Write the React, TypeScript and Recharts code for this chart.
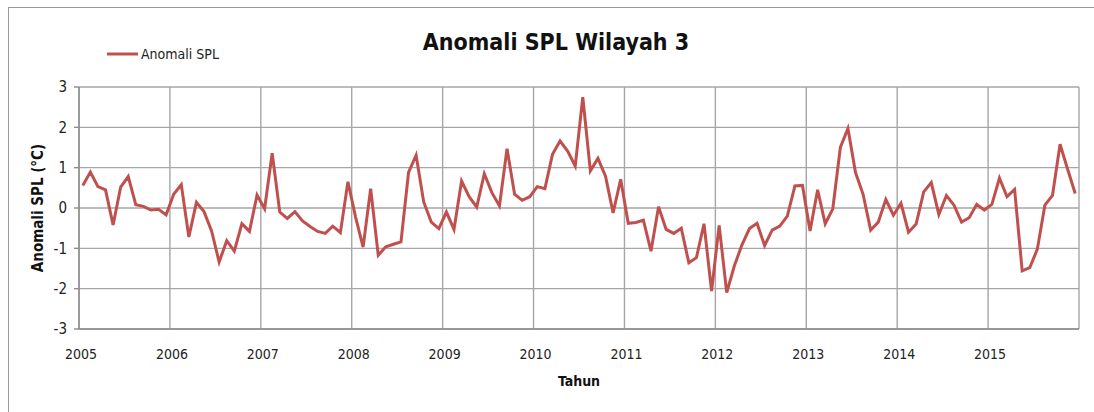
import { LineChart, Line, XAxis, YAxis, CartesianGrid, Label } from "recharts";

// tahun awal tiap tick, satu tick per 12 bulan
const years = [2005, 2006, 2007, 2008, 2009, 2010, 2011, 2012, 2013, 2014, 2015];

// anomali SPL bulanan (°C), Jan 2005 - Des 2015
const anom2005 = [0.56, 0.89, 0.53, 0.45, -0.42, 0.52, 0.78, 0.08, 0.04, -0.05, -0.03, -0.17];
const anom2006 = [0.34, 0.58, -0.72, 0.14, -0.09, -0.57, -1.34, -0.81, -1.07, -0.39, -0.58, 0.32];
const anom2007 = [-0.02, 1.36, -0.1, -0.26, -0.09, -0.32, -0.46, -0.58, -0.63, -0.45, -0.61, 0.65];
const anom2008 = [-0.22, -0.97, 0.48, -1.17, -0.96, -0.9, -0.84, 0.88, 1.31, 0.15, -0.35, -0.51];
const anom2009 = [-0.1, -0.53, 0.67, 0.28, 0.02, 0.85, 0.38, 0.05, 1.47, 0.34, 0.19, 0.28];
const anom2010 = [0.53, 0.48, 1.33, 1.66, 1.41, 1.04, 2.75, 0.92, 1.23, 0.79, -0.12, 0.71];
const anom2011 = [-0.38, -0.36, -0.3, -1.07, 0.03, -0.53, -0.63, -0.5, -1.36, -1.23, -0.39, -2.06];
const anom2012 = [-0.43, -2.1, -1.44, -0.92, -0.51, -0.38, -0.93, -0.55, -0.45, -0.2, 0.55, 0.56];
const anom2013 = [-0.57, 0.45, -0.39, -0.02, 1.5, 1.97, 0.88, 0.34, -0.55, -0.35, 0.21, -0.18];
const anom2014 = [0.12, -0.6, -0.4, 0.4, 0.63, -0.16, 0.31, 0.07, -0.35, -0.24, 0.09, -0.05];
const anom2015 = [0.09, 0.74, 0.28, 0.46, -1.56, -1.48, -1.02, 0.07, 0.31, 1.58, 0.96, 0.36];

const yTicks = [-3, -2, -1, 0, 1, 2, 3];

const series = [
  ...anom2005, ...anom2006, ...anom2007, ...anom2008, ...anom2009, ...anom2010,
  ...anom2011, ...anom2012, ...anom2013, ...anom2014, ...anom2015,
];

// titik di tengah tiap bulan (seperti sumbu kategori Excel)
const data = series.map((v, i) => ({ m: i + 0.5, anomali: v }));
const xTicks = [...years.map((_, i) => i * 12), years.length * 12];

const FONT = "'DejaVu Sans Condensed', 'Liberation Sans Narrow', sans-serif";
const RED = "#c0504d";
const GRID = "#a6a6a6";

export default function App() {
  return (
    <div style={{ position: "absolute", left: 0, top: 0, width: 1094, height: 412, background: "#fff" }}>
      <div
        style={{
          position: "absolute", left: 8, top: 7, width: 1086, height: 405,
          borderTop: "1.5px solid #999", borderLeft: "1.5px solid #999",
        }}
      />
      <div
        style={{
          position: "absolute", left: 0, width: 1112, top: 29, textAlign: "center",
          fontFamily: FONT, fontWeight: "bold", fontSize: 23, color: "#111",
        }}
      >
        Anomali SPL Wilayah 3
      </div>
      {/* legenda */}
      <svg style={{ position: "absolute", left: 105, top: 44 }} width={130} height={20}>
        <line x1={2} y1={10} x2={33} y2={10} stroke={RED} strokeWidth={3} />
        <text x={36} y={15} fontSize={14} fontFamily={FONT} fill="#222">
          Anomali SPL
        </text>
      </svg>
      <div style={{ position: "absolute", left: 0, top: 0 }}>
        <LineChart width={1094} height={412} data={data} margin={{ top: 87, right: 15, bottom: 0, left: 0 }}>
          <CartesianGrid stroke={GRID} strokeWidth={1.4} />
          <XAxis
            dataKey="m"
            type="number"
            domain={[0, 132]}
            ticks={xTicks}
            interval={0}
            tickFormatter={(v: number) => (v >= 132 ? "" : String(years[v / 12]))}
            axisLine={{ stroke: "#8c8c8c", strokeWidth: 1.4 }}
            tickLine={false}
            tick={{ fontFamily: FONT, fontSize: 14, fill: "#222", dx: 2 }}
            tickMargin={14}
            height={83}
          >
            <Label value="Tahun" position="insideTop" offset={47} style={{ fontFamily: FONT, fontSize: 14, fontWeight: "bold", fill: "#111" }} />
          </XAxis>
          <YAxis
            type="number"
            domain={[-3, 3]}
            ticks={yTicks}
            interval={0}
            width={79}
            axisLine={{ stroke: "#8c8c8c", strokeWidth: 1.4 }}
            tickLine={{ stroke: "#8c8c8c", strokeWidth: 1.4 }}
            tickSize={5}
            tickMargin={7}
            tick={{ fontFamily: FONT, fontSize: 15, fill: "#222" }}
          >
            <Label
              value="Anomali SPL (°C)"
              angle={-90}
              position="insideLeft"
              offset={38}
              style={{ textAnchor: "middle", fontFamily: FONT, fontSize: 15, fontWeight: "bold", fill: "#111" }}
            />
          </YAxis>
          <Line
            type="linear"
            dataKey="anomali"
            name="Anomali SPL"
            stroke={RED}
            strokeWidth={3}
            dot={false}
            isAnimationActive={false}
          />
        </LineChart>
      </div>
    </div>
  );
}
